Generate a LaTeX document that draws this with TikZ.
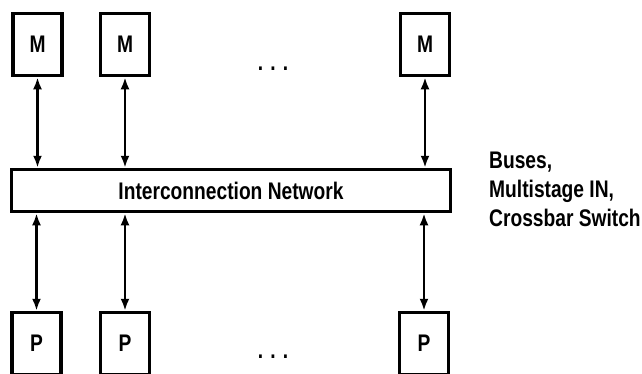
\documentclass[tikz,border=0pt]{standalone}
\usepackage{fontspec}
\setmainfont{Liberation Sans}[FakeStretch=0.8]
\usetikzlibrary{arrows.meta}
\begin{document}
\begin{tikzpicture}[x=1pt,y=-1pt,
    every node/.style={font=\fontsize{24}{29}\selectfont\bfseries},
    unit/.style={draw,line width=3.5pt,minimum width=49pt,minimum height=62pt,inner sep=0pt},
    link/.style={{Latex[length=12pt,width=9pt]}-{Latex[length=12pt,width=9pt]},line width=2.8pt}]
            \useasboundingbox (0,0) rectangle (642,373);
            \node[unit] (m1) at (37.5,44.5) {M};
            \node[unit] (m2) at (125,44.5) {M};
            \node[unit] (m3) at (425,44.5) {M};
            \node[anchor=base] (dotsm) at (273,70) {. . .};
            \node[draw,line width=3.5pt,minimum width=439pt,minimum height=42pt,inner sep=0pt] (net) at (231,190.5) {Interconnection Network};
            \node[anchor=base west,align=left,inner sep=0pt] (kinds) at (489,226) {Buses,\\Multistage IN,\\Crossbar Switch};
            \node[unit] (p1) at (36.5,343.5) {P};
            \node[unit] (p2) at (125,343.5) {P};
            \node[unit] (p3) at (424,343.5) {P};
            \node[anchor=base] (dotsp) at (273,358) {. . .};
            \foreach \n in {1,2,3} {
                \draw[link] (m\n.south) -- (m\n.south |- net.north);
                \draw[link] (p\n.north) -- (p\n.north |- net.south);
            }
        \end{tikzpicture}
\end{document}
